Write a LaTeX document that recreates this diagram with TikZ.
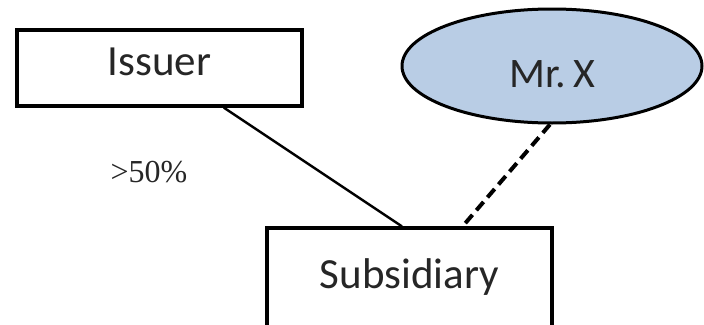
\documentclass[tikz,border=0pt]{standalone}
\usepackage{fontspec}
\setmainfont{Carlito}
\newfontfamily\timesfont{Liberation Serif}
\usepackage{xcolor}
\definecolor{mrxblue}{RGB}{185,205,229}
\usetikzlibrary{shapes.geometric}
\usetikzlibrary{calc}

\begin{document}
\begin{tikzpicture}[x=1pt, y=-1pt,
    entity/.style={draw, line width=3.2pt, minimum width=285pt, inner sep=0pt,
      text=black!85, font=\fontsize{43}{50}\selectfont, text height=30pt, text depth=16pt},
    person/.style={ellipse, draw, line width=3pt, fill=mrxblue, minimum width=300pt,
      minimum height=114pt, inner sep=0pt, text=black!85,
      font=\fontsize{42}{50}\selectfont, text height=44pt, text depth=2pt}]
  \useasboundingbox (0,0) rectangle (704,324);
  \node[entity, minimum height=76pt] (issuer) at (159.5,68) {Issuer};
  \node[entity, minimum height=106pt] (sub) at (409.5,281) {Subsidiary};
  \node[person] (mrx) at (552,66) {Mr.\,X};
  \node[text=black!85, font=\timesfont\fontsize{32}{38}\selectfont] (pct) at (149,172) {>50\%};

  \draw[line width=2.4pt] ($(issuer.south west)!.723!(issuer.south east)$)
    -- ($(sub.north west)!.474!(sub.north east)$);
  \draw[line width=4pt, dash pattern=on 11pt off 6pt] (mrx.-92)
    -- ($(sub.north west)!.684!(sub.north east)$);
\end{tikzpicture}
\end{document}
